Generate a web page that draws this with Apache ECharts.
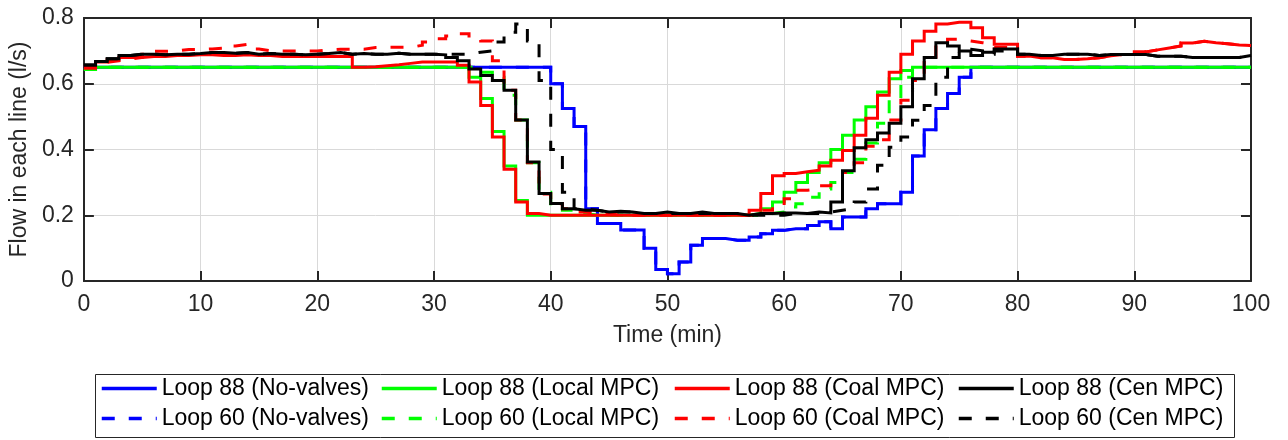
<!DOCTYPE html>
<html>
<head>
<meta charset="utf-8">
<script src="https://cdn.jsdelivr.net/npm/echarts@6/dist/echarts.min.js"></script>
<style>
html,body{margin:0;padding:0;background:#fff;}
#chart{width:1288px;height:440px;}
</style>
</head>
<body>
<div id="chart"></div>
<script>
// time in minutes (value held until next minute, stair plot)
const time = [0,1,2,3,4,5,6,7,8,9,10,11,12,13,14,15,16,17,18,19,20,21,22,23,24,25,26,27,28,29,30,31,32,33,34,35,36,37,38,39,40,41,42,43,44,45,46,47,48,49,50,51,52,53,54,55,56,57,58,59,60,61,62,63,64,65,66,67,68,69,70,71,72,73,74,75,76,77,78,79,80,81,82,83,84,85,86,87,88,89,90,91,92,93,94,95,96,97,98,99,100];

const loop88NoValves = [
0.65,0.65,0.65,0.65,0.65,0.65,0.65,0.65,0.65,0.65,
0.65,0.65,0.65,0.65,0.65,0.65,0.65,0.65,0.65,0.65,
0.65,0.65,0.65,0.65,0.65,0.65,0.65,0.65,0.65,0.65,
0.65,0.65,0.65,0.65,0.65,0.65,0.65,0.65,0.65,0.65,
0.60,0.525,0.47,0.22,0.175,0.175,0.155,0.155,0.10,0.035,
0.022,0.058,0.109,0.129,0.129,0.124,0.124,0.134,0.144,0.154,
0.159,0.159,0.169,0.18,0.159,0.195,0.195,0.22,0.235,0.235,
0.27,0.38,0.46,0.525,0.57,0.62,0.65,0.65,0.65,0.65,
0.65,0.65,0.65,0.65,0.65,0.65,0.65,0.65,0.65,0.65,
0.65,0.65,0.65,0.65,0.65,0.65,0.65,0.65,0.65,0.65,
0.65];

const loop60NoValves = [
0.65,0.65,0.65,0.65,0.65,0.65,0.65,0.65,0.65,0.65,
0.65,0.65,0.65,0.65,0.65,0.65,0.65,0.65,0.65,0.65,
0.65,0.65,0.65,0.65,0.65,0.65,0.65,0.65,0.65,0.65,
0.65,0.65,0.65,0.65,0.65,0.65,0.65,0.65,0.65,0.65,
0.60,0.525,0.47,0.22,0.175,0.175,0.155,0.155,0.10,0.035,
0.022,0.058,0.109,0.129,0.129,0.124,0.124,0.134,0.144,0.154,
0.159,0.159,0.169,0.18,0.159,0.195,0.195,0.22,0.235,0.235,
0.27,0.38,0.46,0.525,0.57,0.62,0.65,0.65,0.65,0.65,
0.65,0.65,0.65,0.65,0.65,0.65,0.65,0.65,0.65,0.65,
0.65,0.65,0.65,0.65,0.65,0.65,0.65,0.65,0.65,0.65,
0.65];

const loop88Local = [
0.643,0.65,0.65,0.65,0.65,0.65,0.65,0.65,0.65,0.65,
0.65,0.65,0.65,0.65,0.65,0.65,0.65,0.65,0.65,0.65,
0.65,0.65,0.65,0.65,0.65,0.65,0.65,0.65,0.65,0.65,
0.65,0.65,0.65,0.62,0.555,0.455,0.35,0.245,0.2,0.2,
0.2,0.2,0.2,0.2,0.2,0.2,0.2,0.2,0.2,0.2,
0.2,0.2,0.2,0.2,0.2,0.2,0.2,0.205,0.22,0.24,
0.27,0.30,0.33,0.36,0.40,0.443,0.49,0.53,0.575,0.615,
0.64,0.65,0.65,0.65,0.65,0.65,0.65,0.65,0.65,0.65,
0.65,0.65,0.65,0.65,0.65,0.65,0.65,0.65,0.65,0.65,
0.65,0.65,0.65,0.65,0.65,0.65,0.65,0.65,0.65,0.65,
0.65];

const loop60Local = [
0.643,0.65,0.65,0.65,0.65,0.65,0.65,0.65,0.65,0.65,
0.65,0.65,0.65,0.65,0.65,0.65,0.65,0.65,0.65,0.65,
0.65,0.65,0.65,0.65,0.65,0.65,0.65,0.65,0.65,0.65,
0.65,0.65,0.65,0.65,0.635,0.62,0.565,0.49,0.36,0.27,
0.23,0.215,0.205,0.2,0.2,0.2,0.2,0.2,0.2,0.2,
0.2,0.2,0.2,0.2,0.2,0.2,0.2,0.2,0.205,0.21,
0.225,0.235,0.255,0.28,0.30,0.33,0.37,0.42,0.48,0.55,
0.62,0.65,0.65,0.65,0.65,0.65,0.65,0.65,0.65,0.65,
0.65,0.65,0.65,0.65,0.65,0.65,0.65,0.65,0.65,0.65,
0.65,0.65,0.65,0.65,0.65,0.65,0.65,0.65,0.65,0.65,
0.65];

const loop88Coal = [
0.647,0.666,0.673,0.68,0.68,0.683,0.683,0.686,0.686,0.688,
0.688,0.686,0.686,0.688,0.686,0.686,0.683,0.683,0.683,0.683,
0.683,0.683,0.683,0.65,0.652,0.655,0.658,0.662,0.666,0.666,
0.666,0.666,0.656,0.605,0.534,0.438,0.34,0.24,0.205,0.2,
0.2,0.2,0.2,0.2,0.2,0.2,0.2,0.2,0.2,0.2,
0.2,0.2,0.2,0.2,0.2,0.2,0.2,0.215,0.266,0.32,
0.327,0.332,0.337,0.35,0.367,0.397,0.443,0.495,0.565,0.635,
0.69,0.73,0.76,0.782,0.787,0.787,0.77,0.74,0.72,0.72,
0.684,0.679,0.679,0.674,0.674,0.676,0.679,0.685,0.689,0.689,
0.697,0.703,0.709,0.715,0.724,0.729,0.725,0.722,0.718,0.716,
0.716];

const loop60Coal = [
0.655,0.665,0.67,0.675,0.68,0.69,0.699,0.70,0.704,0.704,
0.706,0.708,0.715,0.72,0.706,0.70,0.70,0.70,0.70,0.70,
0.703,0.705,0.705,0.705,0.71,0.711,0.711,0.711,0.717,0.727,
0.737,0.745,0.752,0.745,0.73,0.67,0.58,0.49,0.36,0.265,
0.235,0.22,0.21,0.205,0.205,0.2,0.2,0.2,0.2,0.2,
0.2,0.2,0.2,0.2,0.2,0.2,0.2,0.2,0.215,0.23,
0.25,0.276,0.28,0.29,0.30,0.33,0.36,0.41,0.43,0.49,
0.55,0.61,0.665,0.72,0.735,0.73,0.725,0.72,0.71,0.71,
0.684,0.679,0.679,0.674,0.674,0.676,0.679,0.685,0.689,0.689,
0.697,0.703,0.709,0.715,0.724,0.729,0.725,0.722,0.718,0.716,
0.716];

const loop88Cen = [
0.657,0.668,0.676,0.686,0.69,0.69,0.688,0.69,0.69,0.692,
0.695,0.695,0.693,0.695,0.69,0.692,0.69,0.69,0.688,0.69,
0.692,0.695,0.69,0.692,0.69,0.69,0.693,0.69,0.69,0.69,
0.688,0.68,0.67,0.645,0.625,0.61,0.58,0.49,0.362,0.266,
0.236,0.22,0.215,0.215,0.21,0.212,0.21,0.205,0.205,0.21,
0.205,0.205,0.21,0.205,0.205,0.205,0.2,0.205,0.205,0.207,
0.207,0.205,0.21,0.207,0.24,0.335,0.405,0.43,0.45,0.48,
0.53,0.615,0.68,0.725,0.715,0.70,0.686,0.696,0.706,0.706,
0.69,0.686,0.686,0.69,0.69,0.69,0.686,0.689,0.689,0.689,
0.689,0.684,0.684,0.684,0.68,0.68,0.68,0.68,0.68,0.686,
0.686];

const loop60Cen = [
0.657,0.668,0.676,0.686,0.69,0.69,0.688,0.69,0.69,0.692,
0.695,0.695,0.693,0.695,0.69,0.692,0.69,0.69,0.688,0.69,
0.692,0.695,0.69,0.692,0.69,0.69,0.693,0.69,0.69,0.69,
0.69,0.69,0.69,0.696,0.70,0.727,0.757,0.782,0.73,0.61,
0.40,0.27,0.22,0.215,0.21,0.21,0.21,0.205,0.205,0.205,
0.205,0.205,0.205,0.205,0.205,0.205,0.2,0.2,0.2,0.2,
0.205,0.205,0.205,0.21,0.215,0.22,0.24,0.28,0.352,0.407,
0.438,0.489,0.534,0.62,0.68,0.705,0.70,0.69,0.70,0.705,
0.69,0.686,0.686,0.69,0.69,0.69,0.686,0.689,0.689,0.689,
0.689,0.684,0.684,0.684,0.68,0.68,0.68,0.68,0.68,0.686,
0.686];

const seriesNames = [
  'Loop 88 (No-valves)','Loop 60 (No-valves)',
  'Loop 88 (Local MPC)','Loop 60 (Local MPC)',
  'Loop 88 (Coal MPC)','Loop 60 (Coal MPC)',
  'Loop 88 (Cen MPC)','Loop 60 (Cen MPC)'
];
const seriesValues = [loop88NoValves, loop60NoValves, loop88Local, loop60Local, loop88Coal, loop60Coal, loop88Cen, loop60Cen];
const seriesColors = ['#0000ff','#0000ff','#00ff00','#00ff00','#ff0000','#ff0000','#000000','#000000'];
const seriesDashed = [false,true,false,true,false,true,false,true];

const xTicks = [0,10,20,30,40,50,60,70,80,90,100];
const yTicks = [0,0.2,0.4,0.6,0.8];

const FONT = "'Liberation Sans', Arial, Helvetica, sans-serif";
const AX = '#262626';
const DASH = [13, 14];

const chart = echarts.init(document.getElementById('chart'), null, {renderer: 'canvas'});

const series = seriesNames.map((name, i) => ({
  name: name,
  type: 'line',
  step: 'end',
  showSymbol: false,
  symbol: 'none',
  animation: false,
  silent: true,
  z: 2 + i,
  lineStyle: {
    color: seriesColors[i],
    width: 3,
    type: seriesDashed[i] ? DASH : 'solid',
    cap: 'butt',
    join: 'miter'
  },
  itemStyle: {color: seriesColors[i]},
  data: time.map((t, k) => [t, seriesValues[i][k]])
}));

// legend: two rows, four columns (88 on top row, 60 on bottom)
const colLeft = [100, 380, 673, 957];
const rowTop = [377, 407];
const legends = seriesNames.map((name, i) => ({
  data: [name],
  left: colLeft[Math.floor(i / 2)],
  top: rowTop[i % 2],
  padding: 0,
  itemWidth: 55,
  itemHeight: 26,
  itemGap: 0,
  selectedMode: false,
  itemStyle: {opacity: 0},
  lineStyle: {width: 3.5},
  textStyle: {fontFamily: FONT, fontSize: 23, color: '#000'}
}));

const option = {
  backgroundColor: '#ffffff',
  animation: false,
  grid: {left: 81, right: 37, top: 18, bottom: 159, containLabel: false},
  legend: legends,
  graphic: [{
    type: 'rect',
    left: 93, top: 372,
    shape: {width: 1139, height: 63},
    style: {fill: 'none', stroke: '#262626', lineWidth: 1},
    z: 0, silent: true
  }],
  xAxis: [{
    type: 'value', min: 0, max: 100, interval: 10,
    name: 'Time (min)', nameLocation: 'middle', nameGap: 43,
    nameTextStyle: {fontFamily: FONT, fontSize: 23, color: AX},
    axisLine: {show: true, onZero: false, lineStyle: {color: AX, width: 2}},
    axisTick: {show: true, inside: true, length: 10, lineStyle: {color: AX, width: 2}},
    axisLabel: {fontFamily: FONT, fontSize: 23, color: AX, margin: 12},
    splitLine: {show: true, lineStyle: {color: '#d9d9d9', width: 1}}
  }, {
    type: 'value', min: 0, max: 100, interval: 10, position: 'top',
    axisLine: {show: true, onZero: false, lineStyle: {color: AX, width: 2}},
    axisTick: {show: true, inside: true, length: 10, lineStyle: {color: AX, width: 2}},
    axisLabel: {show: false},
    splitLine: {show: false}
  }],
  yAxis: [{
    type: 'value', min: 0, max: 0.8, interval: 0.2,
    name: 'Flow in each line (l/s)', nameLocation: 'middle', nameGap: 52,
    nameTextStyle: {fontFamily: FONT, fontSize: 23, color: AX},
    axisLine: {show: true, onZero: false, lineStyle: {color: AX, width: 2}},
    axisTick: {show: true, inside: true, length: 10, lineStyle: {color: AX, width: 2}},
    axisLabel: {fontFamily: FONT, fontSize: 23, color: AX, margin: 10},
    splitLine: {show: true, lineStyle: {color: '#d9d9d9', width: 1}}
  }, {
    type: 'value', min: 0, max: 0.8, interval: 0.2, position: 'right',
    axisLine: {show: true, onZero: false, lineStyle: {color: AX, width: 2}},
    axisTick: {show: true, inside: true, length: 10, lineStyle: {color: AX, width: 2}},
    axisLabel: {show: false},
    splitLine: {show: false}
  }],
  series: series
};

chart.setOption(option);
</script>
</body>
</html>
